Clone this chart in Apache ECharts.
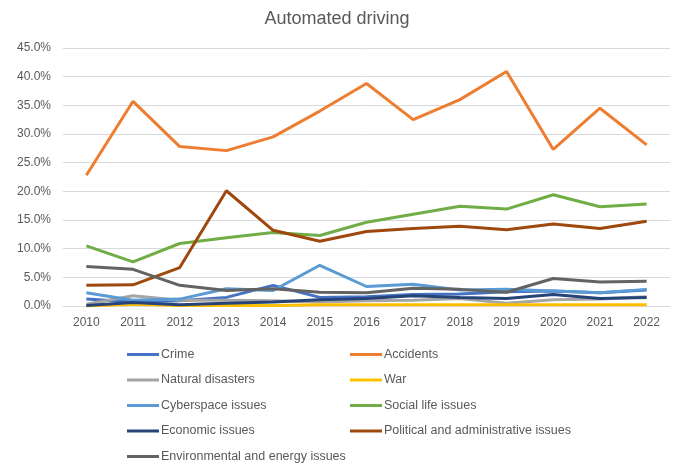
<!DOCTYPE html>
<html>
<head>
<meta charset="utf-8">
<script src="https://cdn.jsdelivr.net/npm/echarts@6/dist/echarts.min.js"></script>
<style>html,body{margin:0;padding:0;background:#fff}#c{width:674px;height:464px}</style>
</head>
<body>
<div id="c"></div>
<script>
const years = ['2010','2011','2012','2013','2014','2015','2016','2017','2018','2019','2020','2021','2022'];
const crime = [1.2, 0.7, 0.9, 1.5, 3.6, 1.5, 1.6, 2.0, 2.1, 2.5, 2.6, 2.3, 2.8];
const accidents = [22.8, 35.7, 27.8, 27.1, 29.5, 34.0, 38.8, 32.5, 36.0, 40.9, 27.3, 34.5, 28.1];
const naturalDisasters = [0.3, 1.8, 1.0, 1.0, 0.9, 0.7, 0.9, 1.0, 1.3, 0.5, 1.1, 1.2, 1.6];
const war = [0.0, 0.3, 0.1, 0.1, 0.1, 0.2, 0.2, 0.2, 0.2, 0.2, 0.2, 0.2, 0.2];
const cyberspace = [2.3, 1.0, 1.2, 3.0, 2.7, 7.1, 3.4, 3.8, 2.8, 2.9, 2.6, 2.3, 2.9];
const socialLife = [10.5, 7.7, 10.9, 11.9, 12.8, 12.3, 14.6, 16.0, 17.4, 16.9, 19.4, 17.3, 17.8];
const economic = [0.1, 0.6, 0.2, 0.5, 0.7, 1.1, 1.3, 1.8, 1.5, 1.3, 2.0, 1.3, 1.5];
const political = [3.6, 3.7, 6.7, 20.1, 13.2, 11.3, 13.0, 13.5, 13.9, 13.3, 14.3, 13.5, 14.8];
const environmental = [6.9, 6.4, 3.6, 2.7, 3.0, 2.4, 2.3, 3.1, 2.9, 2.4, 4.8, 4.2, 4.3];
const yTicks = [0, 5, 10, 15, 20, 25, 30, 35, 40, 45];

const seriesDefs = [
  ['Crime', crime, '#4472C4'],
  ['Accidents', accidents, '#ED7D31'],
  ['Natural disasters', naturalDisasters, '#A5A5A5'],
  ['War', war, '#FFC000'],
  ['Cyberspace issues', cyberspace, '#5B9BD5'],
  ['Social life issues', socialLife, '#70AD47'],
  ['Economic issues', economic, '#264478'],
  ['Political and administrative issues', political, '#9E480E'],
  ['Environmental and energy issues', environmental, '#636363']
];

const legends = seriesDefs.map((d, i) => {
  const col = i % 2, row = Math.floor(i / 2);
  return {
    data: [d[0]],
    left: col === 0 ? 127 : 350,
    top: 348 + row * 25.5,
    icon: 'rect',
    itemWidth: 32,
    itemHeight: 3,
    itemGap: 0,
    padding: 0,
    textStyle: {color: '#595959', fontSize: 12.5, fontFamily: 'Liberation Sans, Arial, sans-serif', padding: [0,0,0,-3]},
    selectedMode: false
  };
});

const chart = echarts.init(document.getElementById('c'));
chart.setOption({
  animation: false,
  title: {
    text: 'Automated driving', left: 'center', top: 5,
    textStyle: {color: '#595959', fontSize: 18, fontWeight: 'normal', fontFamily: 'Liberation Sans, Arial, sans-serif'}
  },
  legend: legends,
  grid: {left: 63, right: 4, top: 48, bottom: 158},
  xAxis: {
    type: 'category', data: years, boundaryGap: true,
    axisLine: {lineStyle: {color: '#D9D9D9'}},
    axisTick: {show: false},
    axisLabel: {color: '#595959', fontSize: 12, margin: 11, fontFamily: 'Liberation Sans, Arial, sans-serif'}
  },
  yAxis: {
    type: 'value', min: 0, max: 45, interval: 5,
    axisLine: {show: false}, axisTick: {show: false},
    splitLine: {lineStyle: {color: '#D9D9D9'}},
    axisLabel: {color: '#595959', fontSize: 12, margin: 12, fontFamily: 'Liberation Sans, Arial, sans-serif',
      formatter: v => yTicks.indexOf(v) >= 0 ? v.toFixed(1) + '%' : ''}
  },
  series: seriesDefs.map(d => ({
    name: d[0], type: 'line', data: d[1], symbol: 'none',
    lineStyle: {width: 3, color: d[2]}, itemStyle: {color: d[2]}
  }))
});
</script>
</body>
</html>
